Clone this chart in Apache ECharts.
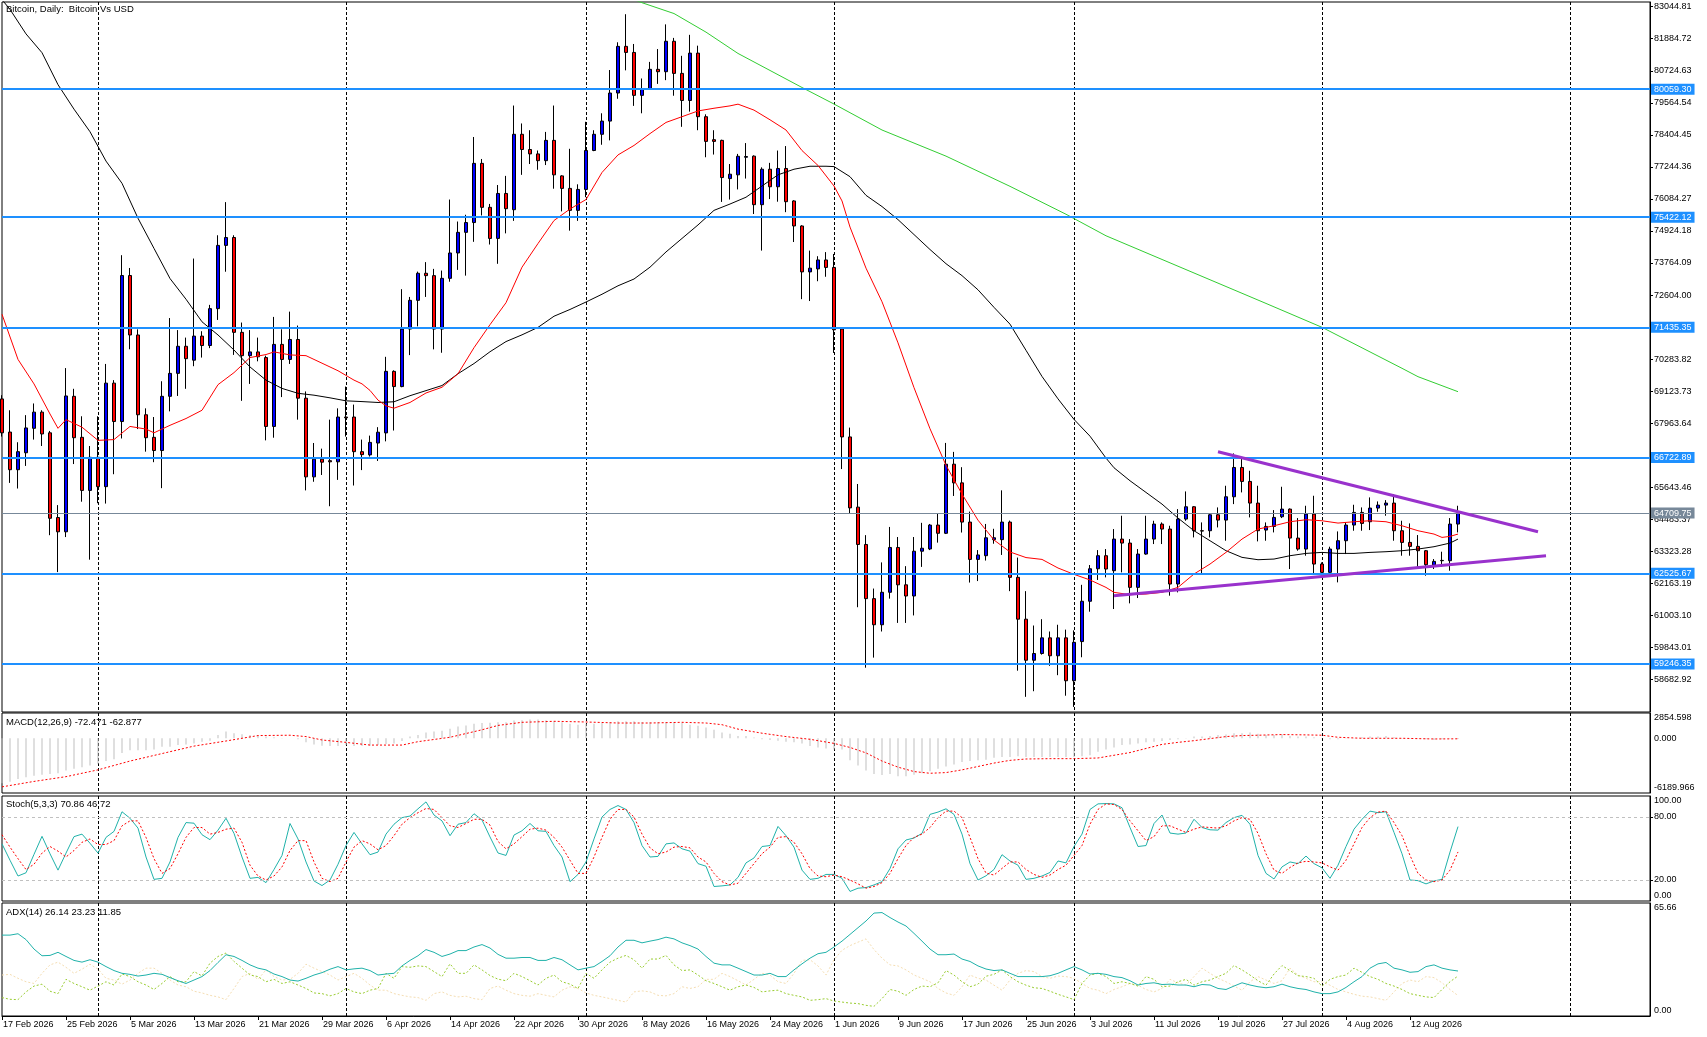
<!DOCTYPE html>
<html><head><meta charset="utf-8">
<script src="https://cdn.jsdelivr.net/npm/echarts@6/dist/echarts.min.js"></script>
<style>html,body{margin:0;padding:0;background:#fff;}#c{width:1707px;height:1037px;}</style>
</head><body><div id="c"></div>
<script>
// ---------- categories ----------
const START_DAY = [2026, 1, 17];      // 17 Feb 2026
const SLOTS = 207;                   // axis slots (bars + empty right margin)
const NBARS = 183;                   // 17 Feb .. 18 Aug 2026
const MONTHS = ['Jan','Feb','Mar','Apr','May','Jun','Jul','Aug','Sep','Oct','Nov','Dec'];
const dates = [];
for (let i = 0; i < SLOTS; i++) {
  const d = new Date(Date.UTC(START_DAY[0], START_DAY[1], START_DAY[2] + i));
  dates.push(d.getUTCDate() + ' ' + MONTHS[d.getUTCMonth()] + ' ' + d.getUTCFullYear());
}

// ---------- price data ----------
const openP = [68842,67642,66279,66893,67778,68364,67615,64548,64031,68937,
67452,65530,66729,65666,69414,68024,73311,71158,68269,67452,
66974,68937,69768,70749,70245,71117,70776,72112,74402,74688,
71253,70409,70545,70340,67846,70817,70272,70995,68869,66020,
66661,66606,66565,68187,68187,66933,66816,67245,67612,69841,
69290,71372,72413,73392,73307,71372,73209,74127,74874,75229,
77372,75780,74654,76282,75694,78425,77874,77715,77470,78205,
76919,76466,75670,76429,77838,78425,78903,79919,81609,81389,
79834,80066,80777,80691,81793,80630,79650,81364,79062,78229,
78205,76821,76956,77593,77634,75876,77160,76525,77187,76011,
75105,73442,73550,73875,73604,71373,67466,64924,63572,61611,
60665,61841,63464,62111,61706,63328,63409,64275,63977,66479,
65803,64383,63031,63166,63747,63747,64383,62382,60867,59380,
59624,60191,59542,60191,58637,60056,61516,62693,63166,62622,
63768,63623,62019,63225,63768,64311,64130,62140,64492,64938,
64070,64070,64648,64455,65300,66361,65855,65071,64094,64226,
64576,64853,63804,63406,64673,62863,62562,63406,63708,64275,
64733,64395,64890,64998,65071,64070,63647,63503,63346,62827,
62984,62984,64311];
const highP = [68978,68432,67274,68255,68678,68432,67683,64998,69959,69209,
68214,67138,68214,70109,69523,74047,73584,71362,68501,68187,
69482,71771,71335,71063,73925,71294,72248,74769,75969,74769,
71608,71335,71063,70409,71812,71362,72003,71499,69114,67247,
67042,68092,68501,69291,68637,67370,67514,67820,70367,69878,
72817,72535,73453,73796,73551,73490,76062,75266,75511,78327,
77531,75903,76588,76919,79466,78817,78572,77838,78511,79466,
76944,77899,76613,78878,78572,79185,80752,81756,82773,81695,
80446,81046,81511,82405,81915,81266,82026,81634,79148,78572,
78229,77348,77715,78107,77661,77228,77390,77836,77999,76038,
75132,74213,74010,74159,74091,71414,67804,65762,63910,61976,
62923,64207,63842,62787,63842,64356,64315,64680,67249,66925,
66371,64762,63369,64315,64140,65532,64437,63098,61882,60638,
60867,60421,60665,60489,60462,62111,62828,63369,63406,64130,
64612,63768,63406,64612,64431,64371,64250,64853,65493,64962,
64371,64697,64914,65698,66868,66663,66241,65698,64371,64817,
65662,64877,64528,64974,65336,62923,63491,64045,64371,65010,
64914,65276,65131,65179,65396,64431,64335,63913,63370,63044,
63310,64528,64974];
const lowP = [67479,65802,65598,66416,67370,67138,63908,62572,63840,66484,
65121,63022,65066,65053,66116,67410,70640,67751,66933,66552,
65611,68392,68950,69209,70027,70340,70681,71703,73448,70436,
68773,69386,70204,67342,67438,68909,70109,68092,65530,65843,
66088,64957,65911,67479,65707,66265,66755,66596,67306,67698,
69265,70429,71470,72535,70637,70514,73086,73515,73307,74531,
75486,74433,73735,74837,75290,76956,77348,77140,77311,76454,
75633,74935,75290,76148,77813,78046,78205,79711,80740,79454,
79185,80066,80250,80385,79821,78695,79246,78572,77593,77691,
75976,76062,76429,76822,75538,74213,76079,75984,75605,74524,
72455,72387,73104,73266,70508,66303,64694,61300,59110,59475,
60421,61611,60732,60732,61003,62760,63369,63639,63950,65329,
64004,62193,62247,62990,63599,63193,61882,59002,58055,58258,
59583,59177,58839,58096,57690,59488,61138,62287,62381,61235,
62562,61440,61633,63201,63587,63587,61718,61838,64431,63828,
62502,63828,64190,63708,65034,65457,64552,63684,63708,64009,
64528,62682,63346,63165,62526,62526,62538,62200,63225,64070,
64070,64094,64757,64612,63708,63165,63165,62767,62441,62683,
62767,62622,64009];
const closeP = [67615,66279,66933,67792,68364,67574,64521,64031,68950,67438,
65530,66729,65666,69414,68024,73311,71158,68269,67438,66974,
68937,69768,70749,70300,71117,70776,72112,74402,74688,71253,
70409,70545,70368,67846,70817,70272,70995,68869,66020,66661,
66552,66565,68187,68160,66933,66825,67269,67637,69841,69290,
71372,72413,73392,73307,71372,73209,74127,74874,75229,77372,
75780,74654,76282,75731,78425,77874,77715,77470,78205,76956,
76466,75670,76429,77838,78425,78903,79919,81609,81389,79834,
80066,80777,80691,81793,80630,79650,81364,79062,78168,78168,
76858,76980,77629,77620,75876,77160,76525,77187,75984,75105,
73442,73577,73875,73604,71346,67466,64897,63572,61611,60665,
61841,63464,62111,61706,63328,63436,64275,63977,66479,65803,
64383,63031,63193,63815,63815,64383,62382,60867,59380,59624,
60191,59542,60191,58637,60029,61516,62693,63166,62683,63768,
63623,62019,63225,63768,64311,64130,62140,64492,64938,64070,
64058,64648,64455,65300,66361,65855,65071,64070,64226,64552,
64853,63804,63406,64673,62863,62562,63406,63708,64275,64733,
64335,64890,64998,65071,64070,63647,63503,63346,62839,62960,
62996,64311,64709.75];

// moving averages: [bar index, value]
const maRed = [[0,71908],[2,70272],[4,69386],[6,68296],[7,67778],[8,68092],[10,67819],[12,67342],[14,67370],[16,67846],[18,67751],[19,67615],[21,67887],[23,68133],[25,68432],[27,69359],[29,69795],[31,70340],[33,70449],[34,70545],[36,70436],[38,70409],[40,70136],[42,69863],[44,69523],[45,69388],[46,69150],[47,68800],[48,68592],[49,68506],[51,68714],[53,69057],[55,69265],[57,69755],[59,70698],[61,71531],[63,72327],[65,73613],[67,74470],[69,75303],[71,75719],[73,76062],[75,77042],[77,77678],[79,78021],[81,78450],[83,78854],[85,79062],[87,79270],[89,79368],[91,79454],[92,79516],[94,79300],[96,78950],[98,78580],[100,77836],[102,77296],[104,76552],[105,76011],[106,75065],[108,73577],[110,72360],[112,70873],[114,69251],[116,67763],[118,66438],[120,65397],[122,64451],[124,63734],[126,63301],[128,63098],[130,63031],[132,62720],[134,62490],[136,62287],[138,62017],[139,61838],[141,61754],[143,61778],[145,61838],[147,62019],[149,62502],[151,62863],[153,63286],[155,63768],[157,64130],[159,64250],[161,64395],[163,64468],[165,64431],[167,64347],[169,64395],[171,64431],[173,64395],[175,64250],[177,64070],[179,63949],[180,63828],[181,63865],[182,63949]];
const maBlack = [[0,83300],[1,82946],[3,82060],[5,81379],[7,80221],[9,79335],[11,78517],[13,77454],[15,76650],[17,75383],[19,74293],[21,73202],[23,72453],[25,71635],[27,71158],[29,70613],[31,70000],[33,69523],[35,69223],[37,69046],[39,68978],[41,68882],[43,68773],[45,68746],[47,68714],[49,68739],[51,68959],[53,69143],[55,69327],[57,69755],[59,70123],[61,70551],[63,70919],[65,71163],[67,71433],[69,71837],[71,72082],[73,72351],[75,72633],[77,72939],[79,73184],[81,73613],[83,74164],[85,74654],[87,75143],[89,75670],[91,75900],[93,76146],[95,76552],[97,76957],[99,77160],[101,77268],[103,77268],[104,77255],[106,76890],[108,76214],[110,75808],[112,75335],[114,74794],[116,74253],[118,73739],[120,73307],[122,72793],[124,72158],[126,71549],[128,70603],[130,69656],[132,68845],[134,68101],[136,67493],[138,66700],[139,66350],[141,65879],[143,65457],[145,65034],[147,64528],[149,64070],[151,63708],[153,63346],[155,63105],[157,63020],[159,63044],[161,63165],[163,63249],[165,63285],[167,63249],[169,63249],[171,63285],[173,63310],[175,63346],[177,63406],[179,63491],[181,63623],[182,63768]];
const maGreen = [[79,83300],[80,83189],[84,82797],[88,82124],[92,81352],[100,80120],[104,79520],[110,78580],[118,77634],[126,76540],[133,75530],[138,74750],[150,73280],[158,72300],[165,71435],[175,69951],[177,69648],[182,69104]];

// drawn objects
const hLevels = [80059.30, 75422.12, 71435.35, 66722.89, 62525.67, 59246.35];
const lastPrice = 64709.75;
const trendUpper = [[152,66931],[192,64035]];
const trendLower = [[139,61717],[193,63165]];
const priceTicks = [83044.81,81884.72,80724.63,79564.54,78404.45,77244.36,76084.27,74924.18,73764.09,72604.00,70283.82,69123.73,67963.64,65643.46,64483.37,63323.28,62163.19,61003.10,59843.01,58682.92];

// ---------- MACD ----------
const macdMain = [-5100,-4919,-4612,-4420,-4228,-4113,-4036,-3959,-3652,-3460,
-3268,-3076,-2884,-2577,-2385,-1655,-1348,-1348,-1348,-1271,
-964,-964,-772,-695,-580,-388,-273,380,764,572,
457,380,265,188,110,35,-4,-119,-465,-695,
-849,-887,-887,-772,-887,-887,-849,-772,-657,-580,
-311,188,380,649,764,841,1071,1340,1455,1647,
1724,1760,1801,1801,1993,2031,2108,2108,2031,1916,
1801,1647,1532,1647,1647,1724,1839,1916,1916,1916,
1839,1839,1839,1839,1801,1724,1532,1417,1225,956,
649,495,265,265,73,-119,-196,-273,-388,-465,
-580,-887,-1041,-1156,-1271,-1271,-2500,-3076,-3652,-4036,
-4151,-4036,-4305,-4305,-4113,-3959,-3729,-3460,-3191,-2961,
-2692,-2577,-2500,-2423,-2193,-2116,-2116,-2039,-2116,-2116,
-2116,-2116,-2116,-2116,-2116,-2039,-1924,-1540,-1271,-1041,
-772,-695,-580,-465,-388,-311,-196,-119,-42,188,
188,265,380,418,572,572,649,495,380,380,
457,265,188,188,111,35,-119,-119,-42,35,
111,188,188,265,111,35,-42,-42,-119,-196,
-119,-42,-72.471];
const macdSignal = [[0,-5495],[4,-4881],[8,-4343],[12,-3575],[16,-2577],[20,-1732],[24,-887],[28,-311],[32,303],[36,342],[38,188],[40,-196],[43,-465],[46,-772],[50,-772],[52,-388],[56,111],[60,956],[62,1450],[65,1801],[69,1916],[73,1839],[77,1724],[81,1724],[85,1801],[88,1724],[90,1532],[92,1033],[95,572],[98,188],[101,-119],[104,-580],[106,-1041],[108,-1655],[110,-2577],[112,-3268],[114,-3767],[116,-3959],[118,-3882],[120,-3575],[122,-3191],[124,-2807],[126,-2500],[128,-2346],[131,-2308],[134,-2308],[137,-2231],[139,-1924],[141,-1617],[143,-1156],[145,-695],[147,-465],[149,-273],[151,-42],[153,188],[155,303],[157,342],[160,418],[163,380],[165,342],[167,111],[170,-4],[175,-4],[179,-81],[182,-62.877]];
const macdLabels = [2854.598, 0, -6189.966];

// ---------- Stochastic ----------
const stochK = [54.4,38.8,23.8,26.9,44.4,61.6,45.0,29.4,45.6,61.3,
63.7,55.0,45.6,60.6,66.3,85.0,78.8,69.4,41.9,20.6,
21.6,37.2,60.6,74.7,74.1,63.1,58.4,67.5,78.8,64.4,
41.9,21.6,22.5,17.5,30.0,43.4,73.8,59.1,37.2,19.1,
14.7,20.0,35.0,52.8,65.3,54.4,44.1,46.6,63.7,73.1,
79.4,80.9,87.8,94.4,81.9,76.3,62.2,73.1,74.7,83.1,
77.2,61.0,45.7,43.4,62.8,66.9,73.8,66.9,66.3,52.8,
41.9,18.4,25.3,37.2,59.1,80.0,87.2,90.9,87.2,74.7,
52.8,41.9,42.5,54.4,55.3,49.7,47.5,35.6,33.1,13.8,
14.4,15.3,22.5,36.3,41.0,51.9,52.8,71.0,62.2,51.3,
29.4,20.6,21.6,25.3,25.3,21.6,9.1,12.2,12.8,15.3,
18.4,30.9,49.7,58.1,60.0,64.4,82.5,84.7,87.8,82.5,
63.7,35.6,20.0,24.0,30.0,44.1,38.1,34.1,20.6,21.6,
23.8,27.2,38.1,36.3,51.9,63.7,87.2,92.5,92.8,92.5,
88.8,70.0,51.9,52.8,73.8,81.9,64.7,63.7,64.7,77.8,
70.0,67.8,67.5,74.7,79.4,81.6,73.1,43.4,26.3,21.0,
32.5,37.2,35.6,42.8,35.6,31.6,21.6,34.1,51.9,68.4,
77.8,85.6,84.1,85.0,65.3,45.0,20.0,19.4,16.3,19.1,
20.6,46.6,70.86];
const stochD = [63.1,51.3,40.3,30.0,35.0,45.6,51.9,47.5,41.9,48.1,
55.9,59.1,53.8,53.8,57.5,71.6,76.3,76.3,60.6,40.3,
26.3,30.9,45.0,60.6,70.0,70.0,63.7,65.3,68.4,69.4,
55.9,34.1,23.8,20.0,23.8,32.5,48.1,57.5,57.5,37.2,
21.6,18.4,21.6,37.2,51.3,57.5,54.4,48.8,52.8,62.2,
73.1,79.4,84.1,88.1,87.2,79.4,71.6,70.0,73.8,77.8,
77.8,72.3,56.7,49.7,54.4,61.3,68.4,69.4,67.5,60.6,
51.3,38.8,26.3,26.3,41.9,60.6,77.8,87.2,87.2,80.0,
63.7,50.6,45.0,46.6,51.3,51.9,50.6,41.9,37.2,26.3,
18.4,15.3,16.9,26.3,35.6,45.0,51.3,60.6,61.3,55.9,
45.0,30.9,23.8,23.1,24.7,23.1,20.0,16.3,12.2,13.8,
17.5,26.3,40.3,52.8,60.6,63.7,70.0,79.4,85.6,85.6,
79.4,60.6,40.3,26.6,24.7,31.0,37.2,37.2,30.0,25.3,
22.5,24.7,30.0,34.1,43.4,52.8,73.1,87.2,92.5,91.9,
87.2,76.3,66.9,57.5,61.3,71.6,71.6,68.4,65.3,68.4,
70.6,70.0,69.4,71.6,76.3,79.4,77.8,64.4,45.0,29.4,
26.3,31.9,36.3,37.8,37.2,36.3,32.5,29.4,38.8,54.4,
70.0,79.4,84.7,85.6,74.7,62.2,43.4,26.3,20.0,18.4,
20.0,29.4,46.72];
const stochLevels = [80, 20];
const stochLabels = [100, 80, 20, 0];

// ---------- ADX ----------
const adxMain = [47.0,47.0,47.8,44.4,38.9,35.0,35.2,37.0,34.6,32.3,
31.3,32.7,31.3,28.7,26.4,24.8,24.2,23.2,23.8,24.8,
24.2,22.3,20.5,18.9,20.9,22.9,26.4,31.1,35.6,34.6,
32.3,29.7,27.8,26.8,24.4,22.9,20.9,20.3,21.9,23.8,
25.2,27.2,28.7,26.8,27.4,27.8,26.4,23.8,24.4,24.8,
29.1,32.3,35.0,38.6,37.0,34.6,36.0,38.0,38.0,40.1,
41.5,39.5,35.8,33.6,33.6,34.0,34.0,32.3,32.3,34.0,
32.7,29.7,26.8,27.8,28.7,31.7,35.0,40.1,44.0,44.0,
42.5,43.5,44.4,45.8,44.8,42.5,40.9,38.9,34.6,30.7,
29.7,29.7,27.8,25.8,23.8,23.8,24.8,22.9,22.9,26.8,
30.3,33.6,36.2,37.0,40.1,43.5,47.4,51.3,55.2,59.8,
60.1,57.2,54.6,52.3,48.0,43.5,38.9,35.6,35.6,36.0,
33.1,31.7,29.1,27.3,26.4,26.8,24.8,22.9,22.9,22.9,
22.9,23.4,24.8,26.8,28.7,26.8,24.4,24.8,24.2,22.9,
22.3,20.5,18.0,18.9,19.3,18.3,18.5,18.0,18.0,17.0,
18.3,18.0,16.0,15.4,17.4,19.3,18.0,17.0,16.4,17.0,
18.5,17.0,16.0,15.4,14.0,13.0,13.0,14.0,16.6,19.9,
22.9,27.8,30.3,31.1,27.8,26.8,25.4,25.8,28.7,29.7,
27.8,26.8,26.14];
const adxPlus = [10.7,9.7,9.5,14.0,17.4,18.5,14.4,13.0,21.3,18.9,
17.0,15.0,17.4,19.9,18.0,24.4,22.9,19.9,18.0,15.4,
18.9,22.9,19.9,19.9,25.8,23.3,30.7,34.6,36.6,31.7,
27.8,23.8,22.9,19.9,21.3,18.9,19.9,18.0,16.0,13.4,
13.0,11.7,13.0,16.0,14.0,13.0,15.0,16.0,24.8,21.9,
28.7,28.3,29.1,28.7,25.8,22.9,30.3,24.8,24.8,29.7,
26.8,23.5,21.4,20.5,24.8,22.9,20.5,18.0,21.9,23.8,
19.9,18.5,16.0,24.8,21.9,26.8,31.3,33.6,35.2,32.7,
27.8,33.1,33.1,35.2,29.7,26.4,26.8,23.8,20.5,18.9,
17.0,15.0,17.0,18.0,16.6,14.0,14.6,15.0,13.0,12.0,
11.1,9.1,9.5,10.1,8.7,8.1,7.5,7.2,6.2,5.6,
10.1,15.4,14.4,12.0,15.4,17.4,17.0,19.3,26.4,23.8,
19.9,17.0,18.5,23.1,24.2,26.8,22.9,19.9,17.9,16.4,
16.0,14.4,12.6,11.1,9.5,18.9,23.8,24.8,22.9,18.9,
19.9,18.9,17.4,22.9,21.3,17.0,17.4,19.9,21.3,17.9,
19.9,20.9,22.9,24.8,29.3,26.8,23.8,20.5,17.9,24.4,
29.3,26.4,23.4,22.9,21.9,17.4,21.3,22.9,23.8,27.8,
25.4,22.9,21.3,18.9,17.4,15.4,13.0,12.0,11.1,10.7,
15.4,19.9,23.23];
const adxMinus = [23.8,24.2,21.9,19.9,18.9,24.8,29.7,31.3,28.3,24.8,
27.2,30.1,27.2,21.9,20.9,18.5,20.9,24.8,27.8,27.8,
24.8,20.9,18.0,17.0,14.4,13.4,12.0,11.1,9.5,16.0,
22.9,24.8,21.3,26.8,22.9,20.9,21.3,24.8,30.1,27.8,
25.8,23.8,20.9,22.9,24.8,21.9,18.0,15.0,15.0,13.0,
12.0,11.1,10.7,9.1,13.0,14.0,12.0,11.1,11.5,10.1,
9.5,16.0,17.4,15.0,13.0,12.0,11.5,13.0,12.0,11.1,
15.0,17.0,16.0,13.4,12.0,11.1,10.1,9.1,8.1,14.0,
14.6,14.0,12.0,11.7,13.0,17.0,16.0,17.0,21.3,21.3,
24.8,22.9,20.5,18.0,21.3,24.8,23.8,19.9,18.9,24.8,
32.3,32.7,29.1,23.8,32.7,38.2,40.9,42.9,44.8,38.6,
33.6,29.7,29.1,26.8,23.8,21.9,19.9,16.0,13.4,12.0,
17.0,23.8,21.9,20.9,17.9,15.0,20.9,24.8,26.4,25.8,
22.9,21.9,23.2,22.9,21.9,18.9,16.0,15.0,13.0,15.4,
17.0,18.9,17.9,15.4,14.0,16.0,21.3,19.3,17.9,22.9,
27.8,24.8,21.9,19.9,17.4,15.0,19.9,22.9,20.9,18.9,
20.5,27.8,23.8,21.9,19.9,19.9,17.9,15.4,14.0,12.6,
11.5,11.1,10.1,9.1,14.0,18.9,20.9,19.9,22.9,22.3,
19.3,15.4,11.85];
const adxLabels = [65.66, 0];

// ---------- chart ----------
const FONT = 'Liberation Sans, Arial, sans-serif';
const candleData = openP.map((o, i) => [o, closeP[i], lowP[i], highP[i]]);
const showIdx = (i) => i % 8 === 0 && i < NBARS;
const monthStart = (i, v) => String(v).split(' ')[0] === '1';

function xAx(gi, bottom) {
  return {
    type: 'category', gridIndex: gi, data: dates, boundaryGap: false,
    axisLine: { show: bottom, lineStyle: { color: '#000', width: 1 } },
    axisTick: { show: bottom, interval: showIdx, length: 4, lineStyle: { color: '#000' } },
    axisLabel: { show: bottom, interval: showIdx, align: 'left', margin: 4, color: '#000',
      fontSize: 9, fontFamily: FONT, padding: [0, 0, 0, 1] },
    splitLine: { show: true, interval: monthStart, lineStyle: { color: '#000', type: [3, 2], width: 1 } }
  };
}
const labelBase = { color: '#000', fontSize: 9, fontFamily: FONT, margin: 4 };
const rich = {
  t: { padding: [10, 0, 0, 0], color: '#000', fontSize: 9, fontFamily: FONT },
  b: { padding: [0, 0, 10, 0], color: '#000', fontSize: 9, fontFamily: FONT }
};
function edgeFmt(max, min, dec) {
  return (v) => {
    const t = v.toFixed(dec);
    if (v === max) return '{t|' + t + '}';
    if (v === min) return '{b|' + t + '}';
    return t;
  };
}
function yAx(gi, min, max, labels, ticks, fmt) {
  return {
    type: 'value', gridIndex: gi, position: 'right', min: min, max: max,
    axisLine: { show: true, lineStyle: { color: '#000' } },
    axisTick: { show: ticks.length > 0, length: 3, customValues: ticks, lineStyle: { color: '#000' } },
    axisLabel: Object.assign({}, labelBase, { customValues: labels, formatter: fmt, rich: rich }),
    splitLine: { show: false }
  };
}
const gridBase = { left: 2, right: 57, show: true, borderColor: '#000', borderWidth: 1, backgroundColor: '#fff' };
const titleStyle = { fontSize: 9.5, fontWeight: 'normal', fontFamily: FONT, color: '#000' };

const lvlLabel = (bg) => ({
  show: true, position: 'end', distance: 1, formatter: (p) => Number(p.value).toFixed(2),
  color: '#fff', backgroundColor: bg, padding: [1, 3, 0, 3], fontSize: 9, fontFamily: FONT, lineHeight: 10
});

const option = {
  animation: false,
  backgroundColor: '#fff',
  title: [
    { text: 'Bitcoin, Daily:  Bitcoin Vs USD', left: 6, top: 4, padding: 0, textStyle: titleStyle },
    { text: 'MACD(12,26,9) -72.471 -62.877', left: 6, top: 717, padding: 0, textStyle: titleStyle },
    { text: 'Stoch(5,3,3) 70.86 46.72', left: 6, top: 799, padding: 0, textStyle: titleStyle },
    { text: 'ADX(14) 26.14 23.23 11.85', left: 6, top: 907, padding: 0, textStyle: titleStyle }
  ],
  grid: [
    Object.assign({ top: 2, height: 710 }, gridBase),
    Object.assign({ top: 713, height: 80 }, gridBase),
    Object.assign({ top: 796, height: 105 }, gridBase),
    Object.assign({ top: 903, height: 113 }, gridBase)
  ],
  xAxis: [xAx(0, false), xAx(1, false), xAx(2, false), xAx(3, true)],
  yAxis: [
    yAx(0, 57506, 83215, priceTicks, priceTicks, (v) => v.toFixed(2)),
    yAx(1, -6189.966, 2854.598, macdLabels, [], edgeFmt(2854.598, -6189.966, 3)),
    yAx(2, 0, 100, stochLabels, stochLevels, edgeFmt(100, 0, 2)),
    yAx(3, 0, 65.66, adxLabels, [], edgeFmt(65.66, 0, 2))
  ],
  series: [
    {
      type: 'candlestick', xAxisIndex: 0, yAxisIndex: 0, data: candleData, barWidth: 4,
      itemStyle: { color: '#0000ff', color0: '#ff0000', borderColor: '#000', borderColor0: '#000', borderColorDoji: '#000', borderWidth: 1 },
      markLine: {
        symbol: 'none', silent: true, animation: false,
        data: hLevels.map((v) => ({ yAxis: v, lineStyle: { color: '#1e90ff', width: 2, type: 'solid' }, label: lvlLabel('#1e90ff') }))
          .concat([{ yAxis: lastPrice, lineStyle: { color: '#778899', width: 1, type: 'solid' }, label: lvlLabel('#778899') }])
      }
    },
    { type: 'line', xAxisIndex: 0, yAxisIndex: 0, data: maGreen, showSymbol: false, smooth: false, lineStyle: { color: '#32cd32', width: 1 } },
    { type: 'line', xAxisIndex: 0, yAxisIndex: 0, data: maBlack, showSymbol: false, lineStyle: { color: '#000', width: 1 } },
    { type: 'line', xAxisIndex: 0, yAxisIndex: 0, data: maRed, showSymbol: false, lineStyle: { color: '#ff0000', width: 1 } },
    { type: 'line', xAxisIndex: 0, yAxisIndex: 0, data: trendUpper, showSymbol: false, lineStyle: { color: '#9932cc', width: 3 }, z: 5 },
    { type: 'line', xAxisIndex: 0, yAxisIndex: 0, data: trendLower, showSymbol: false, lineStyle: { color: '#9932cc', width: 3 }, z: 5 },

    { type: 'bar', xAxisIndex: 1, yAxisIndex: 1, data: macdMain, barWidth: 1, itemStyle: { color: '#c0c0c0' } },
    { type: 'line', xAxisIndex: 1, yAxisIndex: 1, data: macdSignal, showSymbol: false, lineStyle: { color: '#ff0000', width: 1, type: [2, 2] } },

    {
      type: 'line', xAxisIndex: 2, yAxisIndex: 2, data: stochK, showSymbol: false, lineStyle: { color: '#20b2aa', width: 1 },
      markLine: {
        symbol: 'none', silent: true, label: { show: false },
        data: stochLevels.map((v) => ({ yAxis: v })),
        lineStyle: { color: '#c0c0c0', width: 1, type: [3, 3] }
      }
    },
    { type: 'line', xAxisIndex: 2, yAxisIndex: 2, data: stochD, showSymbol: false, lineStyle: { color: '#ff0000', width: 1, type: [2, 2] } },

    { type: 'line', xAxisIndex: 3, yAxisIndex: 3, data: adxMinus, showSymbol: false, lineStyle: { color: '#f5deb3', width: 1, type: [2, 2] } },
    { type: 'line', xAxisIndex: 3, yAxisIndex: 3, data: adxPlus, showSymbol: false, lineStyle: { color: '#9acd32', width: 1, type: [2, 2] } },
    { type: 'line', xAxisIndex: 3, yAxisIndex: 3, data: adxMain, showSymbol: false, lineStyle: { color: '#20b2aa', width: 1 } }
  ]
};
const chart = echarts.init(document.getElementById('c'));
chart.setOption(option);
</script>
</body></html>
